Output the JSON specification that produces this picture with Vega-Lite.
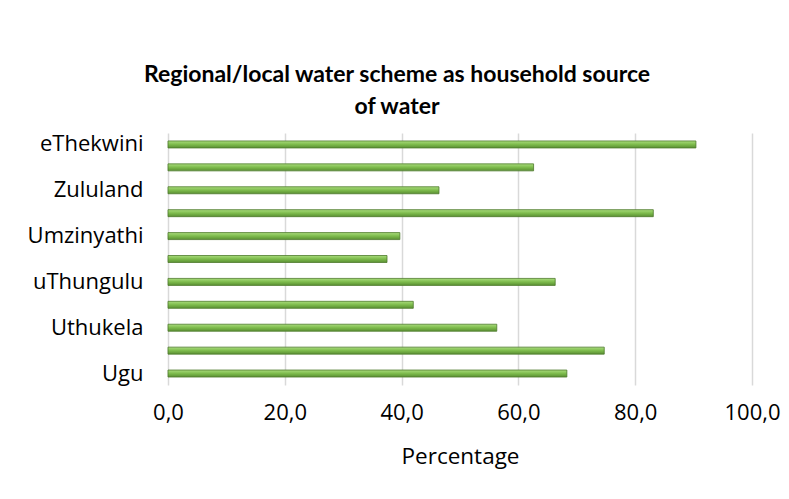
{
  "$schema": "https://vega.github.io/schema/vega-lite/v6.json",
  "autosize": "none",
  "width": 584,
  "height": 252,
  "padding": {"left": 168, "top": 133, "right": 37, "bottom": 114},
  "background": "white",
  "title": {
    "text": ["Regional/local water scheme as household source", "of water"],
    "anchor": "middle",
    "dx": -63,
    "offset": 14,
    "font": "Lato",
    "fontSize": 23,
    "fontWeight": "bold",
    "color": "#000000",
    "lineHeight": 32
  },
  "data": {
    "values": [
      {"district": "eThekwini", "pct": 90.4},
      {"district": "iLembe", "pct": 62.6},
      {"district": "Zululand", "pct": 46.4},
      {"district": "Umkhanyakude", "pct": 83.1},
      {"district": "Umzinyathi", "pct": 39.7},
      {"district": "Amajuba", "pct": 37.5},
      {"district": "uThungulu", "pct": 66.3},
      {"district": "Sisonke", "pct": 42.0},
      {"district": "Uthukela", "pct": 56.3},
      {"district": "uMgungundlovu", "pct": 74.7},
      {"district": "Ugu", "pct": 68.3}
    ]
  },
  "mark": {
    "type": "bar",
    "size": 7,
    "strokeWidth": 0.8,
    "stroke": "#4e7a2c",
    "color": {
      "gradient": "linear",
      "x1": 0, "y1": 0, "x2": 0, "y2": 1,
      "stops": [
        {"offset": 0, "color": "#a9dc7c"},
        {"offset": 0.5, "color": "#7dbb4c"},
        {"offset": 1, "color": "#5a8f33"}
      ]
    }
  },
  "encoding": {
    "y": {
      "field": "district",
      "type": "nominal",
      "sort": null,
      "title": null,
      "axis": {
        "ticks": false,
        "domain": false,
        "labelFont": "Open Sans",
        "labelFontSize": 22,
        "labelColor": "#000000",
        "labelPadding": 25,
        "labelExpr": "indexof(['eThekwini','Zululand','Umzinyathi','uThungulu','Uthukela','Ugu'], datum.label) >= 0 ? datum.label : ''"
      }
    },
    "x": {
      "field": "pct",
      "type": "quantitative",
      "scale": {"domain": [0, 100], "nice": false},
      "title": "Percentage",
      "axis": {
        "values": [0, 20, 40, 60, 80, 100],
        "format": ".1f",
        "labelExpr": "replace(format(datum.value, '.1f'), '.', ',')",
        "labelFlush": false,
        "ticks": false,
        "domain": false,
        "grid": true,
        "gridColor": "#d9d9d9",
        "gridWidth": 1.5,
        "labelFont": "Open Sans",
        "labelFontSize": 22,
        "labelColor": "#000000",
        "labelPadding": 17,
        "titleFont": "Open Sans",
        "titleFontSize": 22.5,
        "titleFontWeight": "normal",
        "titleColor": "#000000",
        "titlePadding": 22
      }
    }
  },
  "config": {
    "view": {"stroke": null},
    "axisY": {"grid": false}
  }
}
